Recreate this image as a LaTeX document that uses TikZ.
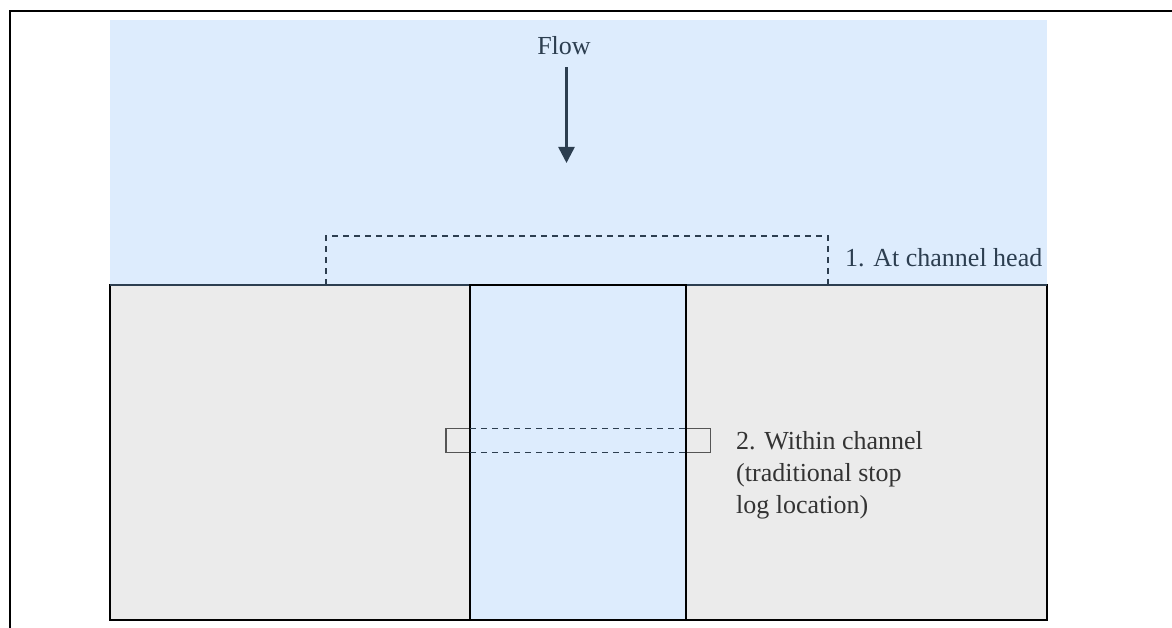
\documentclass[tikz,border=0pt]{standalone}
\usepackage{fontspec}
\setmainfont{Liberation Serif}
\usetikzlibrary{arrows.meta}

\definecolor{water}{HTML}{DDECFD}
\definecolor{bank}{HTML}{EBEBEB}
\definecolor{slate}{HTML}{2C3E50}
\definecolor{slotgray}{HTML}{555555}

\begin{document}
\begin{tikzpicture}[x=1pt, y=-1pt,
  lbl/.style={inner sep=0pt, font=\fontsize{26}{32}\selectfont},
  locbox/.style={slate, line width=2pt, dash pattern=on 6pt off 5pt},
  slotbox/.style={slotgray, line width=1.5pt}]
\useasboundingbox (0,0) rectangle (1172,628);
% Frame
\draw[line width=2pt] (1172,11.5) -- (9.5,11.5) -- (9.5,628);
% Water upstream
\fill[water] (110,20) rectangle (1047,285);
% Banks and channel
\draw[fill=bank, line width=2pt] (110,285) rectangle (470,620);
\draw[fill=bank, line width=2pt] (686,285) rectangle (1047,620);
\draw[slate, line width=2.5pt] (110,285) -- (470,285);
\draw[slate, line width=2.5pt] (686,285) -- (1047,285);
% Slot for stop logs
\draw[slotbox] (446,428.5) rectangle (470,452.5);
\draw[slotbox] (686,428.5) rectangle (710.5,452.5);
\draw[fill=water, line width=2pt] (470,285) rectangle (686,620);
\draw[locbox, line width=1.8pt] (470,428.5) -- (686,428.5);
\draw[locbox, line width=1.8pt] (470,452.5) -- (686,452.5);
% Location 1: channel head
\draw[locbox] (326,285) -- (326,236) -- (828,236) -- (828,285);
% Flow arrow
\node[lbl, text=slate, anchor=base] (flow) at (564,55) {Flow};
\coordinate (flowtip) at (566.5,163);
\draw[slate, line width=2.5pt, -{Triangle[width=16pt,length=16pt]}]
  (flow.south -| flowtip) ++(0,12) -- (flowtip);
% Labels
\node[lbl, text=slate, anchor=base west] (head) at (845,266) {1. At channel head};
\node[lbl, text=black!80, anchor=base west, align=left] (within) at (736,513)
  {2. Within channel\\(traditional stop\\log location)};
\end{tikzpicture}
\end{document}
